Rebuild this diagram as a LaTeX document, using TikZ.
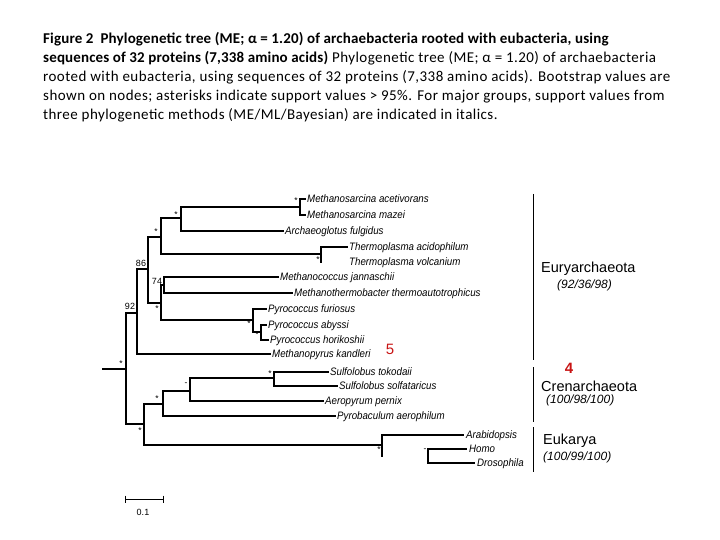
\documentclass[tikz,border=0pt]{standalone}
\usepackage{fontspec}
\setmainfont{Carlito}
\newfontfamily\titlefont[LetterSpace=3,BoldFeatures={LetterSpace=1}]{Carlito}
\newfontfamily\arialfont{Liberation Sans}
\newfontfamily\spfont[FakeStretch=0.9]{Liberation Sans}
\begin{document}
\begin{tikzpicture}[x=1pt,y=-1pt,
  branch/.style={line width=1.1pt, black, line cap=rect},
  grp/.style={line width=0.9pt, black},
  sp/.style={font=\spfont\itshape\fontsize{10.8}{11}\selectfont, anchor=base west, inner sep=0pt},
  ast/.style={font=\arialfont\fontsize{8.5}{8.5}\selectfont, inner sep=0pt},
  bs/.style={font=\arialfont\fontsize{9}{9}\selectfont, inner sep=0pt},
  title/.style={anchor=base west, inner sep=0pt, font=\titlefont\fontsize{15}{19}\selectfont},
  gname/.style={anchor=west, inner sep=0pt, font=\arialfont\fontsize{14.5}{15}\selectfont},
  gval/.style={anchor=west, inner sep=0pt, font=\arialfont\itshape\fontsize{12}{12}\selectfont},
  redmark/.style={inner sep=0pt, text={rgb,255:red,200;green,20;blue,20}}
]
\useasboundingbox (0,0) rectangle (720,540);
% title
\node[title] (t1) at (43,44) {\textbf{Figure 2\ \ Phylogenetic tree (ME; α = 1.20) of archaebacteria rooted with eubacteria, using}};
\node[title] (t2) at (43,63) {\textbf{sequences of 32 proteins (7,338 amino acids)} Phylogenetic tree (ME; α = 1.20) of archaebacteria};
\node[title] (t3) at (43,82) {rooted with eubacteria, using sequences of 32 proteins (7,338 amino acids). Bootstrap values are};
\node[title] (t4) at (43,101) {shown on nodes; asterisks indicate support values > 95\%. For major groups, support values from};
\node[title] (t5) at (43,120) {three phylogenetic methods (ME/ML/Bayesian) are indicated in italics.};

% internal nodes
\coordinate (r0) at (103,369);
\coordinate (R) at (126,369);
\coordinate (n92) at (137,313);
\coordinate (nCE) at (144,424);
\coordinate (n86) at (148,269);
\coordinate (nA) at (161,237);
\coordinate (n74b) at (161,303);
\coordinate (nB) at (181,218);
\coordinate (nTh) at (321,254);
\coordinate (nMs) at (300,207);
\coordinate (n74) at (164,285);
\coordinate (nPyr) at (253,320);
\coordinate (nPyr2) at (261,332);
\coordinate (nCren) at (163,404);
\coordinate (nEuk) at (382,445);
\coordinate (nC2) at (190,391);
\coordinate (nSul) at (274,378);
\coordinate (hd) at (428,456);
% tips
\coordinate (tMac) at (305,199);
\coordinate (tMma) at (305,215);
\coordinate (tAfu) at (283,231);
\coordinate (tTac) at (347,247);
\coordinate (tTvo) at (321,262);
\coordinate (tMja) at (278,277);
\coordinate (tMth) at (292,293);
\coordinate (tPfu) at (266,309);
\coordinate (tPab) at (266,325);
\coordinate (tPho) at (268,340);
\coordinate (tMka) at (270,354);
\coordinate (tSto) at (328,372);
\coordinate (tSso) at (337,386);
\coordinate (tApe) at (323,401);
\coordinate (tPae) at (335,416);
\coordinate (tAra) at (463,435);
\coordinate (eLow) at (382,456);
\coordinate (tHom) at (466,449);
\coordinate (tDro) at (474,463);

% branches
\draw[branch] (r0) -- (R);
\draw[branch] (R) |- (n92);
\draw[branch] (R) |- (nCE);
\draw[branch] (n92) |- (n86);
\draw[branch] (n92) |- (tMka);
\draw[branch] (n86) |- (nA);
\draw[branch] (n86) |- (n74b);
\draw[branch] (nA) |- (nB);
\draw[branch] (nA) |- (nTh);
\draw[branch] (nB) |- (nMs);
\draw[branch] (nB) |- (tAfu);
\draw[branch] (nMs) |- (tMac);
\draw[branch] (nMs) |- (tMma);
\draw[branch] (nTh) |- (tTac);
\draw[branch] (nTh) -- (tTvo);
\draw[branch] (n74b) |- (n74);
\draw[branch] (n74b) |- (nPyr);
\draw[branch] (n74) |- (tMja);
\draw[branch] (n74) |- (tMth);
\draw[branch] (nPyr) |- (tPfu);
\draw[branch] (nPyr) |- (nPyr2);
\draw[branch] (nPyr2) |- (tPab);
\draw[branch] (nPyr2) |- (tPho);
\draw[branch] (nCE) |- (nCren);
\draw[branch] (nCE) |- (nEuk);
\draw[branch] (nCren) |- (nC2);
\draw[branch] (nCren) |- (tPae);
\draw[branch] (nC2) |- (nSul);
\draw[branch] (nC2) |- (tApe);
\draw[branch] (nSul) |- (tSto);
\draw[branch] (nSul) |- (tSso);
\draw[branch] (nEuk) |- (tAra);
\draw[branch] (nEuk) -- (eLow);
\draw[branch] (hd) |- (tHom);
\draw[branch] (hd) |- (tDro);

% species labels
\node[sp] (lMac) at ([xshift=2pt,yshift=-3.7pt]tMac) {Methanosarcina acetivorans};
\node[sp] (lMma) at ([xshift=2pt,yshift=-3.7pt]tMma) {Methanosarcina mazei};
\node[sp] (lAfu) at ([xshift=2pt,yshift=-3.7pt]tAfu) {Archaeoglotus fulgidus};
\node[sp] (lTac) at ([xshift=2pt,yshift=-3.7pt]tTac) {Thermoplasma acidophilum};
\node[sp] (lTvo) at ([xshift=28pt,yshift=-3.7pt]tTvo) {Thermoplasma volcanium};
\node[sp] (lMja) at ([xshift=2pt,yshift=-3.7pt]tMja) {Methanococcus jannaschii};
\node[sp] (lMth) at ([xshift=2pt,yshift=-3.7pt]tMth) {Methanothermobacter thermoautotrophicus};
\node[sp] (lPfu) at ([xshift=2pt,yshift=-3.7pt]tPfu) {Pyrococcus furiosus};
\node[sp] (lPab) at ([xshift=2pt,yshift=-3.7pt]tPab) {Pyrococcus abyssi};
\node[sp] (lPho) at ([xshift=2pt,yshift=-3.7pt]tPho) {Pyrococcus horikoshii};
\node[sp] (lMka) at ([xshift=2pt,yshift=-3.7pt]tMka) {Methanopyrus kandleri};
\node[sp] (lSto) at ([xshift=2pt,yshift=-3.7pt]tSto) {Sulfolobus tokodaii};
\node[sp] (lSso) at ([xshift=2pt,yshift=-3.7pt]tSso) {Sulfolobus solfataricus};
\node[sp] (lApe) at ([xshift=2pt,yshift=-3.7pt]tApe) {Aeropyrum pernix};
\node[sp] (lPae) at ([xshift=2pt,yshift=-3.7pt]tPae) {Pyrobaculum aerophilum};
\node[sp] (lAra) at ([xshift=3pt,yshift=-3.7pt]tAra) {Arabidopsis};
\node[sp] (lHom) at ([xshift=3pt,yshift=-3.7pt]tHom) {Homo};
\node[sp] (lDro) at ([xshift=3pt,yshift=-3.7pt]tDro) {Drosophila};

% support values
\node[ast] (a1) at (121,364) {*};
\node[ast] (a2) at (156,232) {*};
\node[ast] (a3) at (176,215) {*};
\node[ast] (a4) at (296,201) {*};
\node[ast] (a5) at (318,260) {*};
\node[ast] (a6) at (157,309) {*};
\node[ast] (a7) at (249,324) {*};
\node[ast] (a8) at (257,335) {*};
\node[ast] (a9) at (270,374) {*};
\node[ast] (a10) at (140,431) {*};
\node[ast] (a11) at (157,399) {*};
\node[ast] (a12) at (186,384) {-};
\node[ast] (a13) at (379,450) {*};
\node[ast] (a14) at (425,450) {-};
\node[bs] (b86) at (141,263) {86};
\node[bs] (b74) at (157,281) {74};
\node[bs] (b92) at (130,306) {92};

% scale bar
\coordinate (sb1) at (125,499);
\coordinate (sb2) at (163,499);
\draw[line width=1pt] (sb1) -- (sb2);
\draw[line width=1pt] ([yshift=3.5pt]sb1) -- ([yshift=-3.5pt]sb1);
\draw[line width=1pt] ([yshift=3.5pt]sb2) -- ([yshift=-3.5pt]sb2);
\node[bs] (sbl) at (143,512) {0.1};

% group bars
\coordinate (gE1) at (533,194); \coordinate (gE2) at (533,360);
\coordinate (gC1) at (533,367); \coordinate (gC2) at (533,422);
\coordinate (gK1) at (533,427); \coordinate (gK2) at (533,472);
\draw[grp] (gE1) -- (gE2);
\draw[grp] (gC1) -- (gC2);
\draw[grp] (gK1) -- (gK2);
\node[gname] (gEn) at (541,269) {Euryarchaeota};
\node[gval] (gEv) at (557,285) {(92/36/98)};
\node[gname] (gCn) at (541,386) {Crenarchaeota};
\node[gval] (gCv) at (546,400) {(100/98/100)};
\node[gname] (gKn) at (543,441) {Eukarya};
\node[gval] (gKv) at (543,457) {(100/99/100)};

% red marks
\node[redmark, font=\arialfont\fontsize{15}{15}\selectfont] (m5) at (390,349) {5};
\node[redmark, font=\arialfont\bfseries\fontsize{15}{15}\selectfont] (m4) at (569,368) {4};
\end{tikzpicture}
\end{document}
